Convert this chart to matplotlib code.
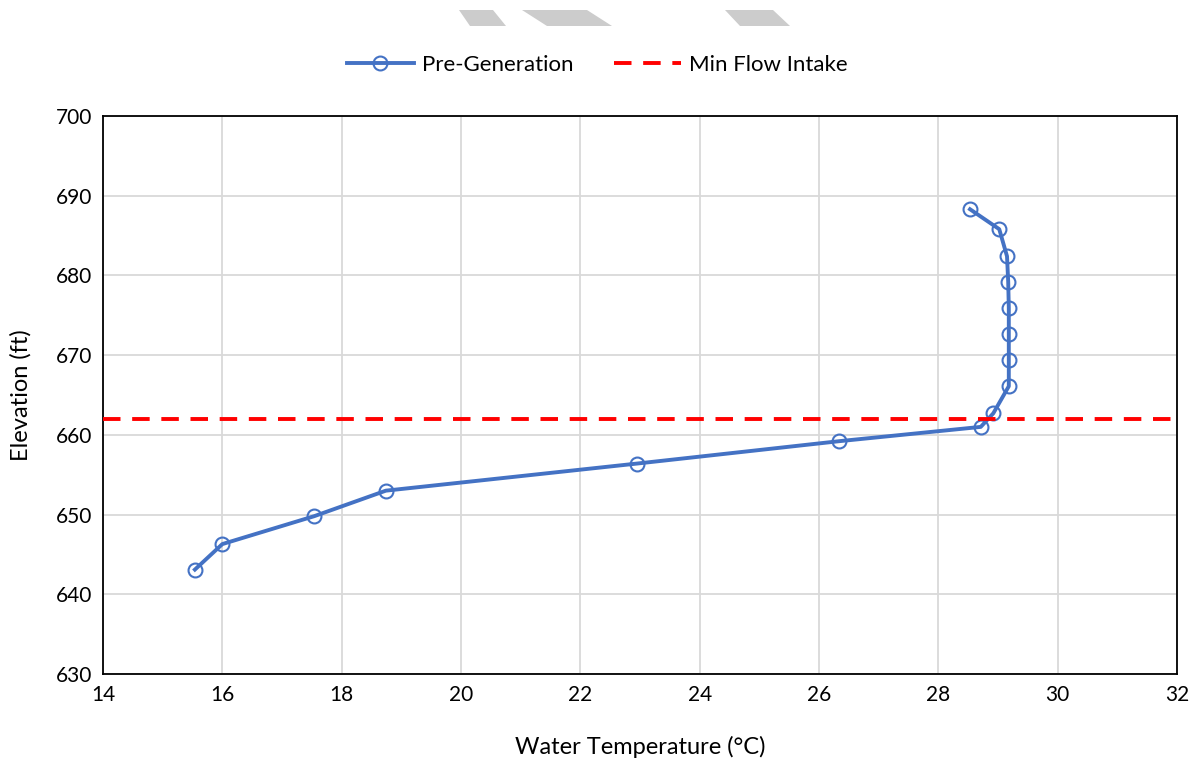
import matplotlib
matplotlib.use("Agg")
import matplotlib.pyplot as plt
from matplotlib.patches import Polygon

plt.rcParams["font.family"] = ["Lato", "DejaVu Sans"]

# Pre-generation temperature profile
temp_c = [28.53, 29.02, 29.15, 29.17, 29.18, 29.18, 29.18, 29.18,
          28.92, 28.71, 26.33, 22.95, 18.74, 17.54, 16.00, 15.54]
elev_ft = [688.3, 685.8, 682.4, 679.2, 675.9, 672.7, 669.4, 666.1,
           662.7, 661.0, 659.2, 656.4, 653.0, 649.8, 646.3, 643.1]
min_flow_intake = 662.0

x_ticks = list(range(14, 33, 2))
y_ticks = list(range(630, 701, 10))

fig = plt.figure(figsize=(11.95, 7.61), dpi=100)
ax = fig.add_axes([0.0862, 0.1143, 0.8988, 0.7333])

blue = "#4472C4"
ax.plot(temp_c, elev_ft, color=blue, lw=2.8, marker="o", markersize=10,
        markerfacecolor="none", markeredgecolor=blue, markeredgewidth=1.5,
        label="Pre-Generation", zorder=3)
ax.axhline(min_flow_intake, color="#FF0000", lw=2.8, ls=(0, (4.5, 3.0)),
           label="Min Flow Intake", zorder=4)

ax.set_xlim(14, 32)
ax.set_ylim(630, 700)
ax.set_xticks(x_ticks)
ax.set_yticks(y_ticks)
ax.grid(True, color="#D9D9D9", lw=1.3)
ax.set_axisbelow(True)
for s in ax.spines.values():
    s.set_linewidth(1.3)
    s.set_color("black")
ax.tick_params(length=0, labelsize=15, pad=8)
ax.set_xlabel("Water Temperature (°C)", fontsize=17, labelpad=22)
ax.set_ylabel("Elevation (ft)", fontsize=17, labelpad=17)

fig.legend(loc="center", bbox_to_anchor=(0.5, 0.915), ncol=2, frameon=False,
           fontsize=16, handlelength=3.0, columnspacing=1.8, handletextpad=0.4)

# grey watermark fragments along the top edge
for pts in [[(459, 10), (493, 10), (506, 26), (470, 26)],
            [(522, 10), (587, 10), (612, 26), (547, 26)],
            [(725, 10), (773, 10), (790, 26), (740, 26)]]:
    fig.patches.append(Polygon([(x / 1195, 1 - y / 761) for x, y in pts],
                               closed=True, facecolor="#CCCCCC",
                               edgecolor="none", transform=fig.transFigure))

fig.savefig("out.png", dpi=100)
